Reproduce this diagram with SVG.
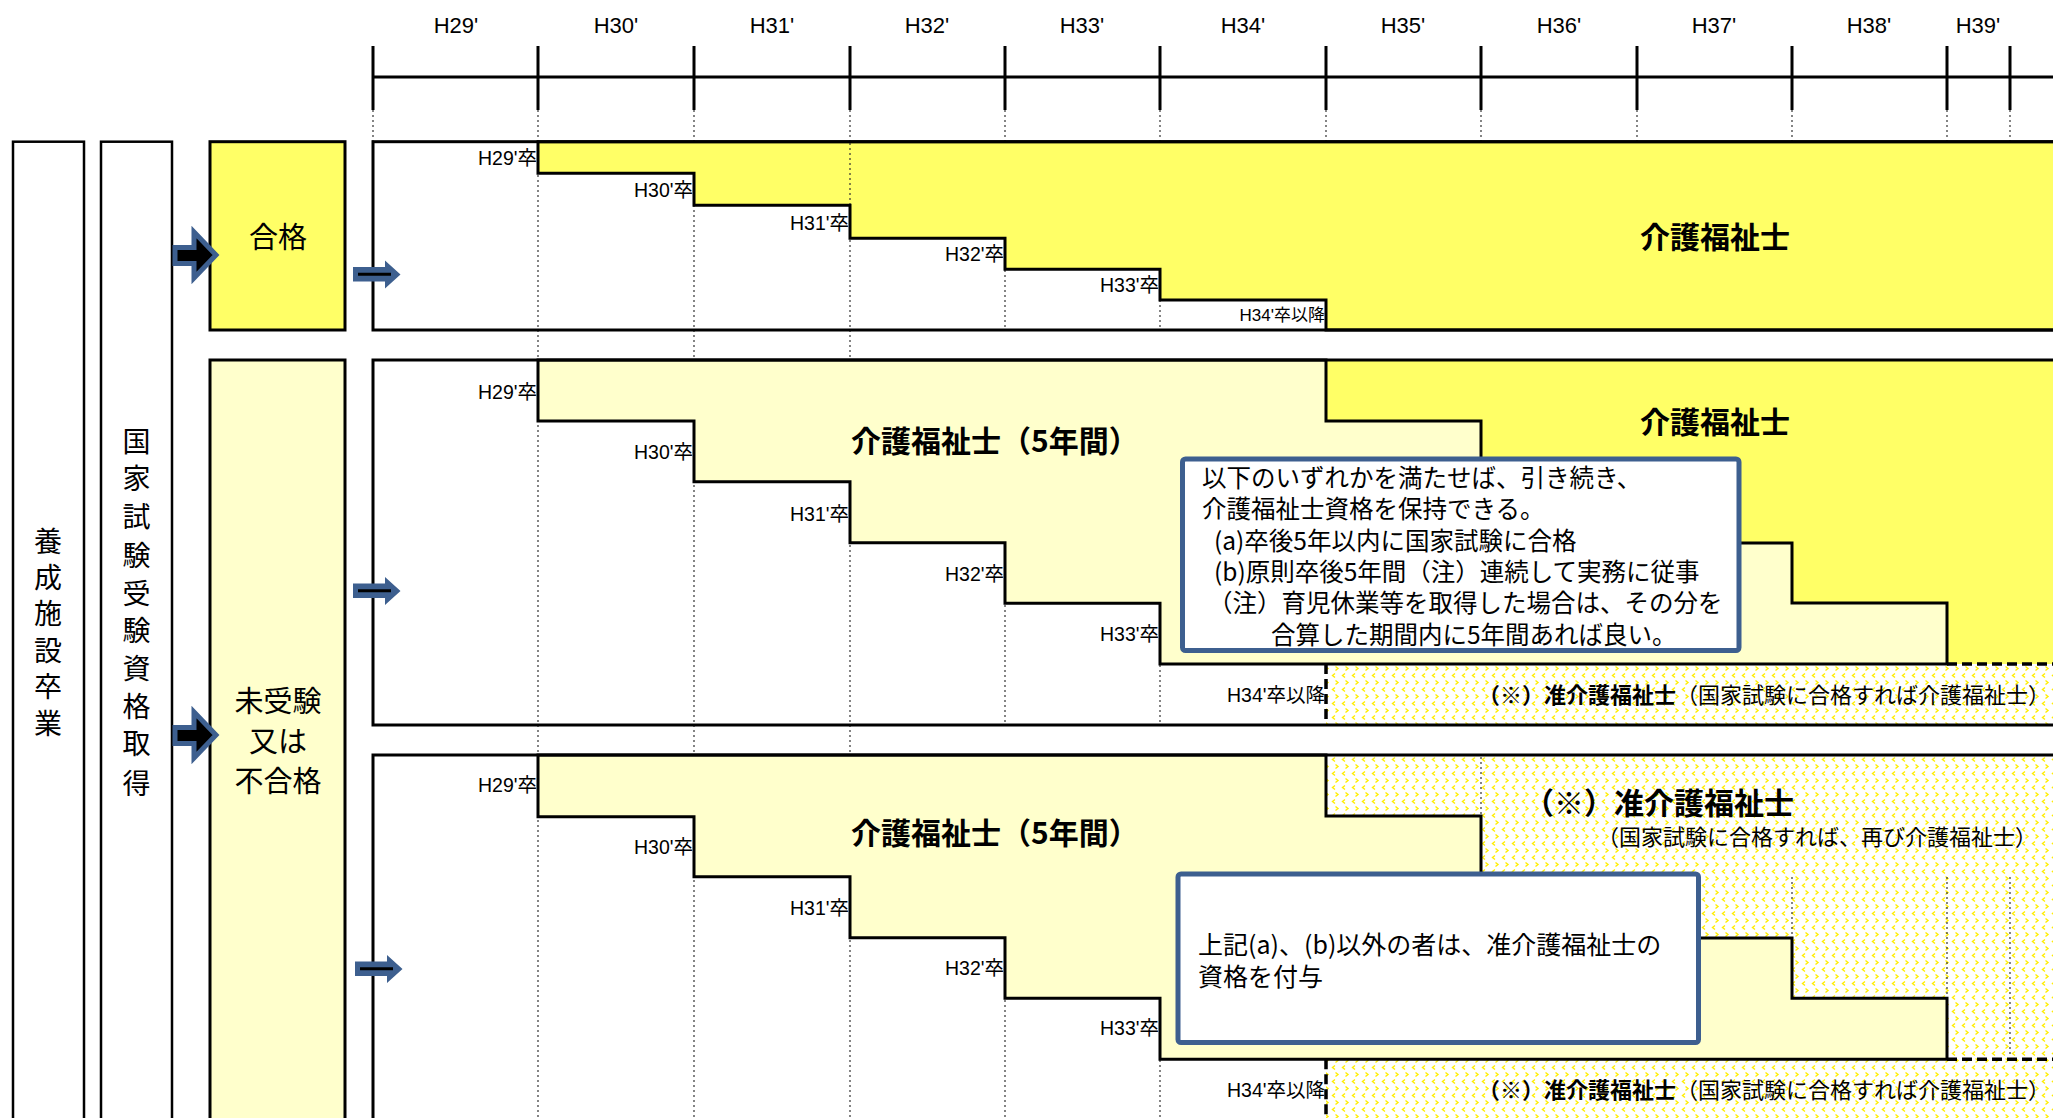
<svg xmlns="http://www.w3.org/2000/svg" width="2053" height="1118" viewBox="0 0 2053 1118">
<style>
.hdr{font-family:"Liberation Sans","Noto Sans CJK JP",sans-serif;font-size:22px;text-anchor:middle;fill:#000}
.lbl{font-family:"Liberation Sans","Noto Sans CJK JP",sans-serif;font-size:19.5px;text-anchor:end;fill:#000}
.lbls{font-family:"Liberation Sans","Noto Sans CJK JP",sans-serif;font-size:17px;text-anchor:end;fill:#000}
.jp{font-family:"Noto Sans CJK JP","Liberation Sans",sans-serif;fill:#000}
.big{font-family:"Noto Sans CJK JP",sans-serif;font-weight:bold;font-size:30px;fill:#000}
.vt{font-family:"Noto Sans CJK JP",sans-serif;font-size:28px;text-anchor:middle;fill:#000}
.side{font-family:"Noto Sans CJK JP",sans-serif;font-size:29px;text-anchor:middle;fill:#000}
.grid{stroke:#333;stroke-width:1.2;stroke-dasharray:2 3;fill:none}
.tick{stroke:#000;stroke-width:3;fill:none}
.outline{fill:none;stroke:#000;stroke-width:3}
.step{stroke:#000;stroke-width:3;stroke-linejoin:miter}
.dash{stroke:#000;stroke-width:3.5;stroke-dasharray:10 5;fill:none}
.note{fill:#fff;stroke:#3D5F8F;stroke-width:5}
.bigarrow{fill:#000;stroke:#3D5F8F;stroke-width:5;stroke-linejoin:miter}
.smallarrow{fill:#3D5F8F}
.yl{fill:#FFFF66}
.lyl{fill:#FFFFCC}
</style>
<defs>
<pattern id="chev" width="10" height="14" patternUnits="userSpaceOnUse">
<rect width="10" height="14" fill="#fff"/>
<path d="M5,1.5 L2.5,3.5 L5,5.5 M5.5,8.5 L8,10.5 L5.5,12.5" fill="none" stroke="#FFEE00" stroke-width="1.4"/>
</pattern>
</defs>

<g id="gridlines">
<path class="grid" d="M373,110V141 M538,110V1118 M694,110V1118 M850,110V1118 M1005,110V330 M1005,360V725 M1005,755V1118 M1160,110V330 M1160,360V725 M1160,755V1118 M1326,110V141 M1481,110V141 M1637,110V141 M1792,110V141 M1947,110V141 M2010,110V141"/>
</g>

<g id="timeline-header">
<path class="tick" d="M373,77H2060 M373,46V110 M538,46V110 M694,46V110 M850,46V110 M1005,46V110 M1160,46V110 M1326,46V110 M1481,46V110 M1637,46V110 M1792,46V110 M1947,46V110 M2010,46V110"/>
<text class="hdr" x="456" y="33">H29'</text>
<text class="hdr" x="616" y="33">H30'</text>
<text class="hdr" x="772" y="33">H31'</text>
<text class="hdr" x="927" y="33">H32'</text>
<text class="hdr" x="1082" y="33">H33'</text>
<text class="hdr" x="1243" y="33">H34'</text>
<text class="hdr" x="1403" y="33">H35'</text>
<text class="hdr" x="1559" y="33">H36'</text>
<text class="hdr" x="1714" y="33">H37'</text>
<text class="hdr" x="1869" y="33">H38'</text>
<text class="hdr" x="1978" y="33">H39'</text>
</g>

<g id="node-graduate">
<rect x="13" y="141.7" width="71" height="1000" fill="#fff" stroke="#000" stroke-width="2.5"/>
<text class="vt"><tspan x="48" y="552">養</tspan><tspan x="48" y="588">成</tspan><tspan x="48" y="624">施</tspan><tspan x="48" y="661">設</tspan><tspan x="48" y="697">卒</tspan><tspan x="48" y="734">業</tspan></text>
</g>

<g id="node-eligibility">
<rect x="101" y="141.7" width="71" height="1000" fill="#fff" stroke="#000" stroke-width="2.5"/>
<text class="vt"><tspan x="136.5" y="452">国</tspan><tspan x="136.5" y="489">家</tspan><tspan x="136.5" y="527">試</tspan><tspan x="136.5" y="566">験</tspan><tspan x="136.5" y="604">受</tspan><tspan x="136.5" y="641">験</tspan><tspan x="136.5" y="679">資</tspan><tspan x="136.5" y="717">格</tspan><tspan x="136.5" y="754">取</tspan><tspan x="136.5" y="794">得</tspan></text>
</g>

<g id="node-pass">
<rect x="210" y="141.7" width="135" height="188.3" class="yl" stroke="#000" stroke-width="3"/>
<text class="side" x="278" y="248">合格</text>
</g>

<g id="node-fail">
<rect x="210" y="360" width="135" height="780" class="lyl" stroke="#000" stroke-width="3"/>
<text class="side" x="278" y="712">未受験</text>
<text class="side" x="278" y="751.5">又は</text>
<text class="side" x="278" y="792">不合格</text>
</g>

<g id="block-pass">
<polygon class="yl step" points="538,141.7 2070,141.7 2070,330 1326,330 1326,300 1160,300 1160,269.3 1005,269.3 1005,238.3 850,238.3 850,205.3 694,205.3 694,173.3 538,173.3"/>
<path class="grid" d="M850,143V204"/>
<rect class="outline" x="373" y="141.7" width="1700" height="188.3"/>
<text class="lbl" x="537" y="165">H29'卒</text>
<text class="lbl" x="693" y="197">H30'卒</text>
<text class="lbl" x="849" y="229.5">H31'卒</text>
<text class="lbl" x="1004" y="261">H32'卒</text>
<text class="lbl" x="1159" y="292">H33'卒</text>
<text class="lbls" x="1325" y="321">H34'卒以降</text>
<text class="big" x="1715" y="248" text-anchor="middle">介護福祉士</text>
</g>

<g id="block-fail-continue">
<rect x="1326" y="664" width="740" height="61" fill="url(#chev)"/>
<polygon class="yl" points="1326,360 2070,360 2070,664 1947,664 1947,603 1792,603 1792,543 1637,543 1637,482 1481,482 1481,421 1326,421"/>
<polygon class="lyl step" points="538,360 1326,360 1326,421 1481,421 1481,482 1637,482 1637,543 1792,543 1792,603 1947,603 1947,664 1160,664 1160,603.3 1005,603.3 1005,542.7 850,542.7 850,481.7 694,481.7 694,421 538,421"/>
<path class="dash" d="M1326,664V725 M1947,664H2060"/>
<rect class="outline" x="373" y="360" width="1700" height="365"/>
<text class="lbl" x="537" y="399">H29'卒</text>
<text class="lbl" x="693" y="459">H30'卒</text>
<text class="lbl" x="849" y="520.5">H31'卒</text>
<text class="lbl" x="1004" y="580.5">H32'卒</text>
<text class="lbl" x="1159" y="641">H33'卒</text>
<text class="lbl" x="1325" y="702">H34'卒以降</text>
<text class="big" x="851" y="452">介護福祉士（5年間）</text>
<text class="big" x="1715" y="433" text-anchor="middle">介護福祉士</text>
<text class="jp" x="1478" y="703" font-size="22"><tspan font-weight="bold">（※）准介護福祉士</tspan>（国家試験に合格すれば介護福祉士）</text>
</g>

<g id="block-fail-other">
<rect x="1326" y="755" width="740" height="380" fill="url(#chev)"/>
<polygon class="lyl step" points="538,755 1326,755 1326,816 1481,816 1481,877 1637,877 1637,938 1792,938 1792,998.3 1947,998.3 1947,1059.3 1160,1059.3 1160,998.3 1005,998.3 1005,937.7 850,937.7 850,876.7 694,876.7 694,816.7 538,816.7"/>
<path class="dash" d="M1326,1059.3V1120 M1947,1059.3H2060"/>
<path class="grid" d="M1481,757V814 M1792,877V936 M1947,877V996 M2010,877V1057"/>
<rect class="outline" x="373" y="755" width="1700" height="400"/>
<text class="lbl" x="537" y="792">H29'卒</text>
<text class="lbl" x="693" y="854">H30'卒</text>
<text class="lbl" x="849" y="915">H31'卒</text>
<text class="lbl" x="1004" y="975">H32'卒</text>
<text class="lbl" x="1159" y="1035">H33'卒</text>
<text class="lbl" x="1325" y="1097">H34'卒以降</text>
<text class="big" x="851" y="844">介護福祉士（5年間）</text>
<text class="big" x="1524" y="814">（※）准介護福祉士</text>
<text class="jp" x="1597" y="845" font-size="22">（国家試験に合格すれば、再び介護福祉士）</text>
<text class="jp" x="1478" y="1098" font-size="22"><tspan font-weight="bold">（※）准介護福祉士</tspan>（国家試験に合格すれば介護福祉士）</text>
</g>

<g id="note-keep">
<rect class="note" x="1182.5" y="459" width="556.5" height="191.5" rx="3"/>
<text class="jp" font-size="24.5"><tspan x="1202" y="487">以下のいずれかを満たせば、引き続き、</tspan><tspan x="1202" y="518">介護福祉士資格を保持できる。</tspan><tspan x="1214" y="550">(a)卒後5年以内に国家試験に合格</tspan><tspan x="1214" y="581">(b)原則卒後5年間（注）連続して実務に従事</tspan><tspan x="1208" y="612">（注）育児休業等を取得した場合は、その分を</tspan><tspan x="1271" y="644">合算した期間内に5年間あれば良い。</tspan></text>
</g>

<g id="note-other">
<rect class="note" x="1178" y="874" width="520.5" height="168.5" rx="3"/>
<text class="jp" font-size="25"><tspan x="1198" y="954">上記(a)、(b)以外の者は、准介護福祉士の</tspan><tspan x="1198" y="986">資格を付与</tspan></text>
</g>

<g id="connectors">
<polygon class="bigarrow" points="175,247.5 194,247.5 194,232 216,255 194,278 194,263.5 175,263.5"/>
<polygon class="bigarrow" points="175,727.5 194,727.5 194,712 216,735 194,758 194,743.5 175,743.5"/>
<g>
<polygon class="smallarrow" points="353,267 385,267 385,260.5 400.5,274.5 385,288.5 385,281.5 353,281.5"/>
<line x1="358" y1="274.3" x2="391" y2="274.3" stroke="#000" stroke-width="3"/>
</g>
<g>
<polygon class="smallarrow" points="353,583.5 385,583.5 385,577 400.5,591 385,605 385,598 353,598"/>
<line x1="358" y1="590.8" x2="391" y2="590.8" stroke="#000" stroke-width="3"/>
</g>
<g>
<polygon class="smallarrow" points="355,961.5 387,961.5 387,955 402.5,969 387,983 387,976 355,976"/>
<line x1="360" y1="968.8" x2="393" y2="968.8" stroke="#000" stroke-width="3"/>
</g>
</g>
</svg>
